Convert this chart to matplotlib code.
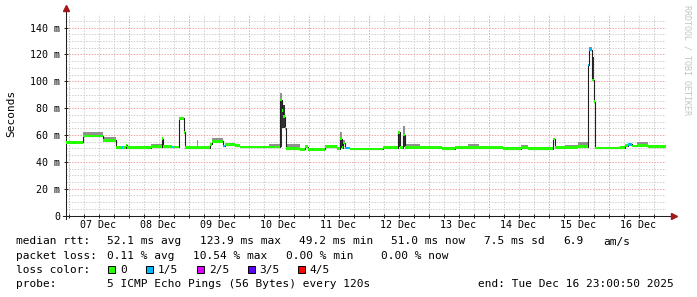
import numpy as np
import matplotlib
matplotlib.use('Agg')
import matplotlib.pyplot as plt
from matplotlib.patches import Rectangle

# time axis: hours after 07 Dec 00:00, graph runs 06 Dec 23:00:50 .. 16 Dec 23:00:50
t_begin = -1.0
t_end = 239.0

# median rtt, one step per segment (segment start in hours)
seg_start = [-1.0, 5.8, 13.8, 19.0, 21.2, 21.6, 23.1, 23.5, 33.0, 37.5,
             37.9, 41.2, 41.6, 44.2, 46.0, 46.4, 51.4, 51.8, 56.7, 57.5,
             61.7, 62.7, 66.7, 68.7, 80.0, 84.7, 85.3, 85.9, 86.4, 86.9,
             92.7, 94.7, 95.9, 102.7, 107.5, 108.7, 109.5, 109.9, 110.7, 112.7,
             125.9, 131.9, 132.7, 133.8, 134.7, 140.7, 149.5, 154.7, 159.7, 164.3,
             173.9, 181.1, 183.9, 193.6, 194.7, 198.7, 203.9, 207.8, 208.2, 209.5,
             210.3, 210.7, 220.7, 222.7, 223.9, 225.5, 227.5, 231.9]
median_ms = [54.6, 59.3, 56.0, 50.6, 50.6, 50.6, 52.3, 50.6, 51.3, 57.3,
             51.3, 51.0, 51.0, 72.3, 62.0, 50.6, 50.6, 50.6, 53.0, 55.3,
             51.8, 52.8, 52.0, 51.0, 51.0, 86.0, 78.0, 73.5, 65.0, 49.8,
             49.3, 51.2, 49.3, 51.2, 49.8, 57.3, 50.5, 54.0, 50.3, 49.5,
             50.5, 62.0, 50.5, 60.0, 50.8, 50.8, 49.8, 50.6, 50.6, 50.6,
             49.8, 50.6, 49.8, 57.0, 50.6, 50.8, 51.3, 112.0, 123.5, 101.0,
             84.7, 50.3, 50.6, 52.0, 52.9, 51.8, 52.3, 51.3]
# highest ping of the 5 (smoke top)
smoke_max_ms = [55.4, 62.3, 58.5, 51.2, 51.2, 51.2, 52.6, 51.5, 53.5, 58.5,
                52.5, 51.5, 52.0, 72.8, 62.5, 51.2, 56.0, 51.2, 53.5, 57.8,
                52.2, 53.5, 53.0, 52.0, 53.2, 91.5, 85.0, 78.0, 66.0, 53.0,
                49.8, 51.8, 49.8, 51.8, 50.3, 62.3, 51.0, 56.0, 50.6, 50.0,
                51.2, 63.0, 52.0, 66.7, 53.0, 51.5, 50.3, 51.2, 53.6, 51.2,
                50.5, 52.5, 50.5, 57.5, 51.0, 52.3, 54.5, 113.0, 125.5, 115.0,
                95.0, 50.8, 51.0, 52.5, 53.2, 52.2, 54.8, 51.8]
# lost pings out of 5
loss = [0, 0, 0, 0, 1, 0, 0, 0, 0, 0,
        0, 1, 0, 0, 0, 0, 0, 0, 0, 0,
        1, 0, 0, 0, 0, 0, 0, 0, 0, 0,
        0, 0, 0, 0, 0, 0, 0, 0, 1, 0,
        0, 0, 0, 0, 0, 0, 0, 0, 0, 0,
        0, 0, 0, 0, 0, 0, 0, 1, 1, 0,
        0, 0, 0, 0, 1, 0, 0, 0]

# dense inner smoke (2nd..4th ping) where it stands out
inner_start = [84.7, 85.3, 108.7, 131.9, 133.8, 209.5]
inner_end = [85.3, 86.4, 109.5, 132.7, 134.7, 210.3]
inner_lo_ms = [51.0, 65.0, 50.5, 51.0, 51.0, 101.0]
inner_hi_ms = [86.0, 82.0, 57.0, 62.0, 61.0, 118.0]

day_labels = ['07 Dec', '08 Dec', '09 Dec', '10 Dec', '11 Dec',
              '12 Dec', '13 Dec', '14 Dec', '15 Dec', '16 Dec']
y_ticks = [0, 20, 40, 60, 80, 100, 120, 140]
y_labels = ['0', '20 m', '40 m', '60 m', '80 m', '100 m', '120 m', '140 m']

loss_names = ['0', '1/5', '2/5', '3/5', '4/5']
loss_colors = ['#26ff00', '#00b8ff', '#dd00ff', '#5e00ff', '#ff0000']

rtt_stats = ['52.1 ms avg', '123.9 ms max', '49.2 ms min', '51.0 ms now',
             '7.5 ms sd', '6.9', 'am/s']
loss_stats = ['0.11 % avg', '10.54 % max', '0.00 % min', '0.00 % now']
probe_text = '5 ICMP Echo Pings (56 Bytes) every 120s'
end_text = 'end: Tue Dec 16 23:00:50 2025'

W, H = 697, 297
MONO = 'DejaVu Sans Mono'
plt.rcParams['font.family'] = MONO

fig = plt.figure(figsize=(W / 100, H / 100), dpi=100, facecolor='white')
ax = fig.add_axes([66 / W, 81.5 / H, 600 / W, 201.4 / H])
ax.set_xlim(t_begin, t_end)
ax.set_ylim(0, 150)
for s in ax.spines.values():
    s.set_visible(False)

# grid
for h in np.arange(0, t_end, 6):
    major = h % 24 == 0
    ax.axvline(h, color='#f0a0a0' if major else '#d0d0d0', lw=0.72,
               ls=(0, (1.4, 1.4)), zorder=0.5)
for v in np.arange(5, 150, 5):
    major = v % 20 == 0
    ax.axhline(v, color='#f0a0a0' if major else '#d0d0d0', lw=0.72,
               ls=(0, (1.4, 1.4)), zorder=0.5)

edges = np.array(seg_start + [t_end])
med = np.array(median_ms)
med_ext = np.append(med, med[-1])
top_ext = np.append(smoke_max_ms, smoke_max_ms[-1])

# smoke
ax.fill_between(edges, med_ext, top_ext, step='post', color='#919191', lw=0, zorder=2)
ax.bar(inner_start, np.subtract(inner_hi_ms, inner_lo_ms),
       width=np.subtract(inner_end, inner_start), bottom=inner_lo_ms, align='edge',
       color='#323232', linewidth=0, zorder=2.5)
# median line
ax.step(edges, med_ext, where='post', color='#202020', lw=0.8, zorder=3)
# loss colored median band
ax.bar(seg_start, 2.0, width=np.diff(edges), bottom=med - 1.0, align='edge',
       color=[loss_colors[k] for k in loss], linewidth=0, antialiased=False, zorder=4)

# axes with arrows
ax.plot([0, 0], [-0.015, 1.025], transform=ax.transAxes, color='#202020', lw=0.75, clip_on=False)
ax.plot([-0.005, 1.01], [0, 0], transform=ax.transAxes, color='#202020', lw=0.75, clip_on=False)
ax.plot(0, 1.03, marker='^', ms=4, color='#a01818', transform=ax.transAxes, clip_on=False)
ax.plot(1.013, 0, marker='>', ms=4, color='#a01818', transform=ax.transAxes, clip_on=False)

ax.set_xticks(np.arange(12, 240, 24), day_labels)
ax.set_xticks(np.arange(0, t_end, 6), minor=True)
ax.xaxis.remove_overlapping_locs = False
ax.tick_params(axis='x', which='major', length=0, pad=3, labelsize=7.2)
ax.tick_params(axis='x', which='minor', length=3, direction='inout', color='#202020', width=0.7)
ax.set_yticks(y_ticks, y_labels)
ax.tick_params(axis='y', which='major', length=3, direction='inout', color='#202020',
               width=0.7, pad=2.5, labelsize=7.2)

def px(x, y):
    return x / W, 1 - y / H

fig.text(*px(11, 113), 'Seconds', rotation=90, ha='center', va='center', fontsize=8)
fig.text(*px(687, 60), 'RRDTOOL / TOBI OETIKER', rotation=270, ha='center', va='center',
         fontsize=6, color='#c4c4c4')

# legend lines
fig.text(*px(16, 244.5), 'median rtt:', fontsize=8)
for s, x in zip(rtt_stats, [107.3, 199.8, 299, 391.5, 484, 563, 603]):
    fig.text(*px(x, 244.5), s, fontsize=8)
fig.text(*px(16, 258.6), 'packet loss:', fontsize=8)
for s, x in zip(loss_stats, [107.3, 193.3, 286.5, 381]):
    fig.text(*px(x, 258.6), s, fontsize=8)
fig.text(*px(16, 272.7), 'loss color:', fontsize=8)
for name, c, x in zip(loss_names, loss_colors, [108.3, 145.7, 196.7, 247.7, 297.7]):
    fig.patches.append(Rectangle(px(x, 272.5), 7 / W, 7 / H, transform=fig.transFigure,
                                 facecolor=c, edgecolor='black', lw=0.7))
    fig.text(*px(x + 12, 272.7), name, fontsize=8)
fig.text(*px(16, 286.8), 'probe:', fontsize=8)
fig.text(*px(107.3, 286.8), probe_text, fontsize=8)
fig.text(*px(478.3, 286.8), end_text, fontsize=8)

fig.savefig('out.png', dpi=100, facecolor='white')
